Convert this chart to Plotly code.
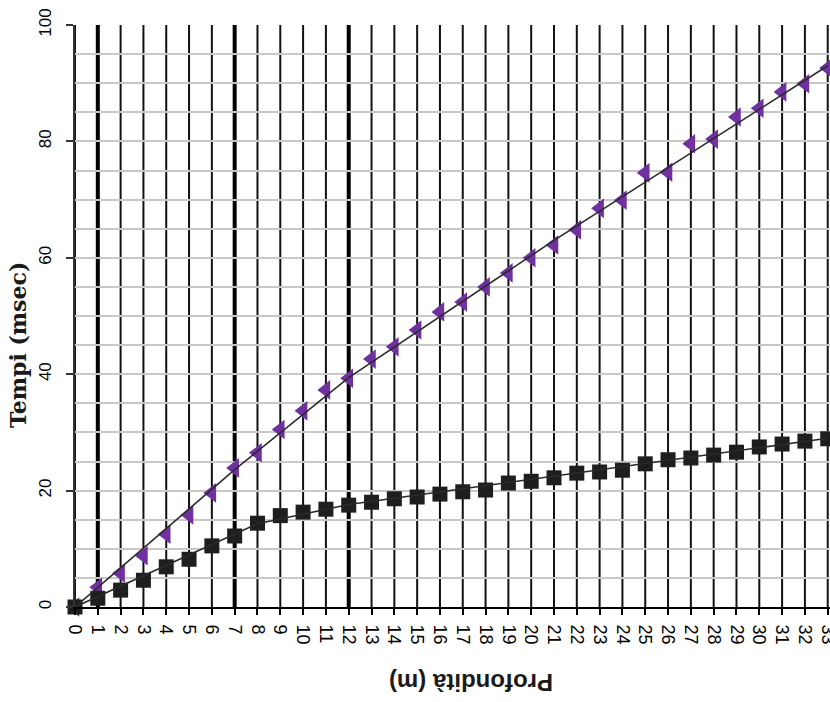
import plotly.graph_objects as go

# ---- data ----
profondita = list(range(0, 34))
tempi_quadrati = [0, 1.5, 2.9, 4.6, 6.9, 8.2, 10.5, 12.2, 14.4, 15.7, 16.3, 16.8,
                  17.5, 18.0, 18.6, 18.9, 19.4, 19.8, 20.1, 21.3, 21.6, 22.2,
                  23.0, 23.2, 23.5, 24.6, 25.3, 25.6, 26.1, 26.6, 27.5, 28.0,
                  28.5, 28.9]
tempi_triangoli = [0, 3.4, 5.8, 8.8, 12.5, 15.8, 19.6, 23.9, 26.5, 30.5, 33.7,
                   37.3, 39.3, 42.6, 44.7, 47.6, 50.7, 52.4, 55.0, 57.4, 60.0,
                   62.2, 64.8, 68.5, 69.9, 74.6, 74.7, 79.6, 80.4, 84.2, 85.7,
                   88.5, 89.9, 92.6]
# fitted (dromocrone) lines
linea_tri_x = [0, 7, 12, 21, 33]
linea_tri_y = [0, 23.6, 39.4, 63.0, 93.0]
linea_quad_x = [0, 8, 12, 33]
linea_quad_y = [0, 14.3, 17.6, 29.0]
# layer boundaries (thick vertical lines)
limiti = [1, 7, 12]
x_ticks = list(range(0, 34))
y_ticks = [0, 20, 40, 60, 80, 100]

fig = go.Figure()

fig.add_trace(go.Scatter(
    x=profondita, y=tempi_triangoli, mode="markers",
    marker=dict(symbol="triangle-left", size=17, color="#7030A0",
                line=dict(width=0)),
    cliponaxis=False, showlegend=False))
fig.add_trace(go.Scatter(
    x=profondita, y=tempi_quadrati, mode="markers",
    marker=dict(symbol="square", size=15, color="#1e1e1e",
                line=dict(width=0)),
    cliponaxis=False, showlegend=False))
fig.add_trace(go.Scatter(
    x=linea_tri_x, y=linea_tri_y, mode="lines",
    line=dict(color="#2a2a2a", width=1.6), showlegend=False))
fig.add_trace(go.Scatter(
    x=linea_quad_x, y=linea_quad_y, mode="lines",
    line=dict(color="#2a2a2a", width=1.6), showlegend=False))

# vertical grid (black), drawn below the grey horizontal grid
for xv in x_ticks:
    fig.add_shape(type="line", x0=xv, x1=xv, y0=0, y1=100, xref="x", yref="y",
                  line=dict(color="#111111", width=2), layer="below")
for xv in limiti:
    fig.add_shape(type="line", x0=xv, x1=xv, y0=0, y1=100, xref="x", yref="y",
                  line=dict(color="black", width=4), layer="below")

fig.update_xaxes(
    range=[0, 33.1], tickmode="array", tickvals=x_ticks,
    ticktext=[str(v) for v in x_ticks], tickangle=90,
    ticks="outside", ticklen=6, tickwidth=2, tickcolor="black",
    showgrid=False, ticklabeloverflow="allow",
    showline=True, linecolor="black", linewidth=2,
    zeroline=False, ticklabelstandoff=6,
    tickfont=dict(family="Liberation Sans, Arial", size=18, color="black"))
fig.update_yaxes(
    range=[0, 100], tickmode="array", tickvals=y_ticks,
    ticktext=[str(v) for v in y_ticks], tickangle=-90,
    ticks="outside", ticklen=7, tickwidth=2, tickcolor="#333333",
    showgrid=True, gridcolor="#c8c8c8", gridwidth=2,
    minor=dict(dtick=5, showgrid=True, gridcolor="#c8c8c8", gridwidth=2, ticks=""),
    showline=True, linecolor="#333333", linewidth=2,
    zeroline=False, ticklabelstandoff=8,
    tickfont=dict(family="Liberation Sans, Arial", size=17, color="black"))

fig.add_annotation(text="<b>Tempi (msec)</b>", textangle=-90,
                   xref="paper", yref="paper", x=-0.0755, y=0.45,
                   xanchor="center", yanchor="middle", showarrow=False,
                   font=dict(family="DejaVu Serif", size=22, color="#1a1a1a"))
fig.add_annotation(text="<b>Profondità (m)</b>", textangle=180,
                   xref="paper", yref="paper", x=0.5245, y=-0.1306,
                   xanchor="center", yanchor="middle", showarrow=False,
                   font=dict(family="Liberation Sans, Arial", size=24, color="#1a1a1a"))

fig.update_layout(
    width=830, height=702,
    margin=dict(l=75, r=0, t=25, b=95, autoexpand=False),
    paper_bgcolor="white", plot_bgcolor="white",
    showlegend=False)

fig.write_html("out.html", config={"displayModeBar": False},
               post_script="document.body.style.margin='0';document.body.style.overflow='hidden';")
